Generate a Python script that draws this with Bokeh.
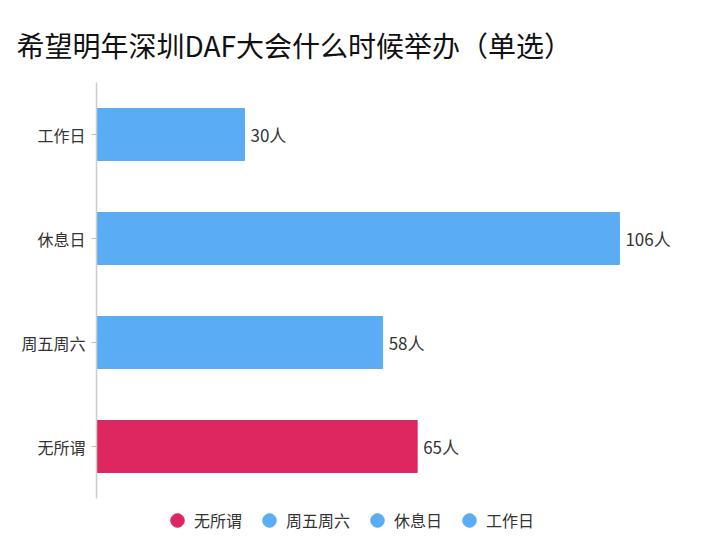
from bokeh.core.properties import value
from bokeh.embed import file_html
from bokeh.models import ColumnDataSource, Legend, LegendItem, Range1d
from bokeh.plotting import figure
from bokeh.resources import INLINE

# data (top to bottom)
categories = ["工作日", "休息日", "周五周六", "无所谓"]
counts = [30, 106, 58, 65]
colors = ["#5AADF5", "#5AADF5", "#5AADF5", "#DE2660"]
labels = [f"{c}人" for c in counts]

FONT = "Noto Sans CJK SC"

# numeric category slots so that the frame can leave room for the legend
n = len(categories)
ypos = [n - i - 0.5 for i in range(n)]
legend_room = 0.375

source = ColumnDataSource(dict(y=ypos, n=counts, color=colors, label=labels))

p = figure(frame_width=592, frame_height=455, y_range=Range1d(-legend_room, n),
           x_range=(0, 120), output_backend="svg", toolbar_location=None,
           tools="", title="希望明年深圳DAF大会什么时候举办（单选）",
           min_border_left=96, min_border_right=14, min_border_top=82,
           min_border_bottom=0)

p.hbar(y="y", right="n", height=0.5, color="color", source=source)
p.text(x="n", y="y", text="label", source=source, x_offset=6,
       text_baseline="middle", text_font=value(FONT), text_font_size="17px",
       text_color="#333333")

p.title.text_font = FONT
p.title.text_font_size = "28px"
p.title.text_font_style = "normal"
p.title.text_color = "#111111"
p.title.offset = -80
p.title.standoff = 35

p.xaxis.visible = False
p.xgrid.visible = False
p.ygrid.visible = False
p.outline_line_color = None

p.yaxis.bounds = (0, n)
p.yaxis.ticker = ypos
p.yaxis.major_label_overrides = {y: c for y, c in zip(ypos, categories)}
p.yaxis.axis_line_color = "#cccccc"
p.yaxis.axis_line_width = 1.5
p.yaxis.major_tick_line_color = "#bbbbbb"
p.yaxis.major_tick_out = 5
p.yaxis.major_tick_in = 0
p.yaxis.minor_tick_line_color = None
p.yaxis.major_label_standoff = 6
p.yaxis.major_label_text_font = FONT
p.yaxis.major_label_text_font_size = "16px"
p.yaxis.major_label_text_color = "#333333"

# legend markers (circle glyphs), legend order as in reference
leg_names = ["无所谓", "周五周六", "休息日", "工作日"]
leg_colors = ["#DE2660", "#5AADF5", "#5AADF5", "#5AADF5"]
items = []
for name, col in zip(leg_names, leg_colors):
    r = p.scatter(x=[0], y=[0], marker="circle", size=0, color=col)
    items.append(LegendItem(label=name, renderers=[r]))

legend = Legend(items=items, orientation="horizontal", location=(64, 0),
                glyph_width=34, glyph_height=34, label_standoff=0, spacing=10,
                label_text_font=FONT, label_text_font_size="16px",
                label_text_color="#333333", border_line_color=None,
                background_fill_alpha=0, padding=2, margin=0)
p.add_layout(legend)

open("out.html", "w").write(file_html(p, INLINE))
